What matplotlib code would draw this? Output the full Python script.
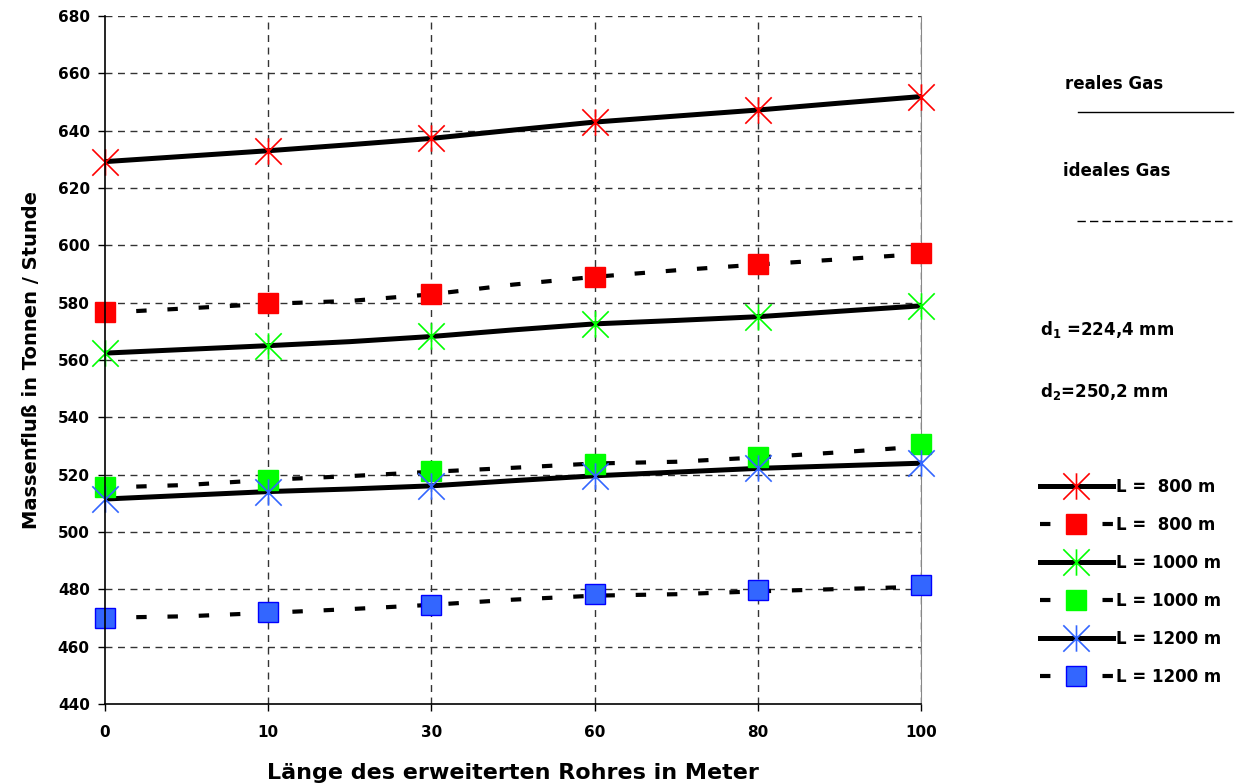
import matplotlib.pyplot as plt
from matplotlib.path import Path
from matplotlib.lines import Line2D

# categories on the x axis (Länge des erweiterten Rohres)
categories = ['0', '10', '30', '60', '80', '100']
yticks = [440, 460, 480, 500, 520, 540, 560, 580, 600, 620, 640, 660, 680]

# marker values at each category
real_800 = [629.2, 633.0, 637.3, 643.0, 647.2, 651.9]
ideal_800 = [576.6, 579.8, 582.9, 589.1, 593.5, 597.2]
real_1000 = [562.4, 565.0, 568.2, 572.6, 575.1, 578.9]
ideal_1000 = [515.6, 518.2, 521.3, 523.7, 526.3, 530.6]
real_1200 = [511.5, 514.1, 516.1, 519.6, 522.2, 524.0]
ideal_1200 = [470.1, 472.0, 474.6, 478.3, 479.6, 481.4]

# line values at each category and half way between them
real_800_line = [629.2, 631.1, 633.0, 635.1, 637.3, 640.2, 643.0, 645.1, 647.2, 649.6, 651.9]
ideal_800_line = [576.5, 578.0, 579.6, 580.6, 582.9, 586.3, 589.0, 591.3, 593.3, 595.1, 597.0]
real_1000_line = [562.4, 563.7, 565.0, 566.4, 568.2, 570.5, 572.6, 573.8, 575.1, 577.0, 578.9]
ideal_1000_line = [515.5, 516.4, 518.2, 519.5, 521.0, 522.4, 523.9, 524.5, 526.0, 527.8, 529.8]
real_1200_line = [511.5, 512.8, 514.1, 515.0, 516.1, 517.9, 519.6, 520.9, 522.2, 523.1, 524.0]
ideal_1200_line = [470.1, 470.6, 471.8, 473.1, 474.6, 476.4, 477.8, 478.3, 479.3, 480.1, 480.9]

labels = ['L =  800 m', 'L =  800 m', 'L = 1000 m', 'L = 1000 m', 'L = 1200 m', 'L = 1200 m']

plt.rcParams['font.family'] = 'DejaVu Sans'
plt.rcParams['font.weight'] = 'bold'
plt.rcParams['mathtext.default'] = 'bf'

# asterisk marker like in Excel (vertical bar plus an X)
star = Path([(0, -1), (0, 1), (-1, -1), (1, 1), (-1, 1), (1, -1)],
            [Path.MOVETO, Path.LINETO, Path.MOVETO, Path.LINETO, Path.MOVETO, Path.LINETO])

fig = plt.figure(figsize=(12.36, 7.84), dpi=100)
ax = fig.add_axes([105 / 1236, 80 / 784, 816 / 1236, 688 / 784])

xm = list(range(len(categories)))
xl = [i / 2 for i in range(2 * len(categories) - 1)]

dash = (0, (2.5, 5))
series = [
    (real_800_line, real_800, '-', star, '#FF0000', '#FF0000'),
    (ideal_800_line, ideal_800, dash, 's', '#FF0000', '#FF0000'),
    (real_1000_line, real_1000, '-', star, '#00FF00', '#00FF00'),
    (ideal_1000_line, ideal_1000, dash, 's', '#00FF00', '#00FF00'),
    (real_1200_line, real_1200, '-', star, '#3366FF', '#3366FF'),
    (ideal_1200_line, ideal_1200, dash, 's', '#3366FF', '#0000FF'),
]

handles = []
for line_vals, mark_vals, ls, mk, fc, ec in series:
    lw = 3.6 if ls == '-' else 3.0
    ln, = ax.plot(xl, line_vals, color='black', linestyle=ls, linewidth=lw, zorder=3)
    if mk == 's':
        mh, = ax.plot(xm, mark_vals, linestyle='none', marker='s', markersize=15,
                      markerfacecolor=fc, markeredgecolor=ec, markeredgewidth=1.0, zorder=4,
                      clip_on=False)
    else:
        mh, = ax.plot(xm, mark_vals, linestyle='none', marker=mk, markersize=19,
                      markerfacecolor='none', markeredgecolor=fc, markeredgewidth=1.2, zorder=4,
                      clip_on=False)
    handles.append((ln, mh))

ax.set_xlim(0, 5)
ax.set_ylim(440, 680)
ax.set_xticks(xm)
ax.set_xticklabels(categories)
ax.set_yticks(yticks)
ax.tick_params(axis='both', labelsize=11, length=5, width=1, pad=6)
ax.tick_params(axis='x', pad=10)

ax.grid(True, color='#333333', linestyle=(0, (5, 4)), linewidth=1)
# no grid line on top of the axis lines
ax.xaxis.get_gridlines()[0].set_visible(False)
ax.yaxis.get_gridlines()[0].set_visible(False)
ax.spines['top'].set_visible(False)
ax.spines['right'].set_color('#888888')
for side in ['left', 'bottom']:
    ax.spines[side].set_linewidth(1.2)
    ax.spines[side].set_zorder(5)

ax.set_xlabel('Länge des erweiterten Rohres in Meter', fontsize=16, fontweight='bold', labelpad=17)
ax.set_ylabel('Massenfluß in Tonnen / Stunde', fontsize=14, fontweight='bold', labelpad=12)

# notes on the right side
fig.text(1065 / 1236, 1 - 84 / 784, 'reales Gas', fontsize=12, fontweight='bold', va='center')
fig.add_artist(Line2D([1078 / 1236, 1233 / 1236], [1 - 112 / 784] * 2, color='black', linewidth=1))
fig.text(1063 / 1236, 1 - 171 / 784, 'ideales Gas', fontsize=12, fontweight='bold', va='center')
fig.add_artist(Line2D([1077 / 1236, 1232 / 1236], [1 - 221 / 784] * 2, color='black',
                      linewidth=1, linestyle=(0, (6, 3))))
fig.text(1040 / 1236, 1 - 329 / 784, 'd$_1$ =224,4 mm', fontsize=12, fontweight='bold', va='center')
fig.text(1040 / 1236, 1 - 391 / 784, 'd$_2$=250,2 mm', fontsize=12, fontweight='bold', va='center')

fig.legend(handles, labels, loc='upper left', bbox_to_anchor=(1033 / 1236, 1 - 471 / 784),
           frameon=False, handlelength=4.4, handletextpad=0.15,
           labelspacing=1.2, borderaxespad=0, prop={'weight': 'bold', 'size': 12})

fig.savefig('out.png', dpi=100)
